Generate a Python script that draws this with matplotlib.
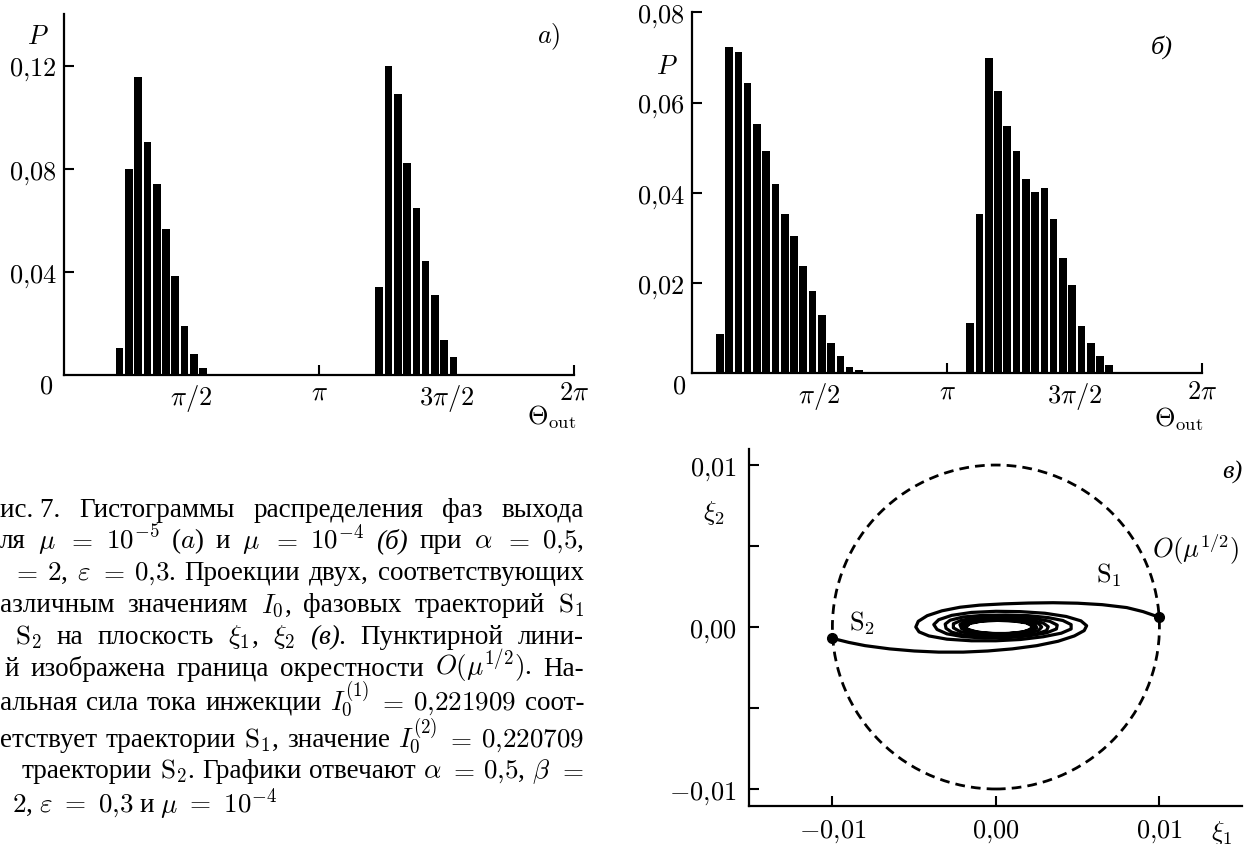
import numpy as np
import matplotlib
matplotlib.use("Agg")
import matplotlib.pyplot as plt
from matplotlib.patches import Ellipse

plt.rcParams['font.family'] = ['Liberation Serif', 'DejaVu Serif']
plt.rcParams['mathtext.fontset'] = 'cm'

W, H = 1255, 845
BIN = 2 * np.pi / 55
FS = 19

# panel a (mu = 1e-5): first bin index of each group, bar heights
a_left_start = 6
a_left = [0.0103, 0.080, 0.1156, 0.0903, 0.0739, 0.0568, 0.0382, 0.0189, 0.0081, 0.0026]
a_right_start = 34
a_right = [0.0341, 0.1197, 0.1089, 0.0823, 0.0648, 0.0442, 0.0310, 0.0137, 0.0068]

# panel b (mu = 1e-4)
b_left_start = 3
b_left = [0.0086, 0.0722, 0.0712, 0.0644, 0.0553, 0.0493, 0.0420, 0.0353,
          0.0304, 0.0238, 0.0183, 0.0129, 0.0067, 0.0038, 0.0013, 0.0007]
b_right_start = 30
b_right = [0.0111, 0.0353, 0.0699, 0.0626, 0.0547, 0.0493, 0.0431, 0.0402,
           0.0410, 0.0341, 0.0256, 0.0195, 0.0104, 0.0067, 0.0038, 0.0019]

# panel c: trajectories (units of 1e-3)
s1_x = [10.0, 9.0, 8.0, 6.5, 5.0, 3.5, 2.0, 0.5, -1.0, -2.2, -3.3, -4.2, -4.75, -4.9, -4.7, -4.1,
        -3.0, -1.5, 0.0, 1.5, 2.9, 4.0, 4.6, 4.6, 4.1, 3.2, 2.0, 0.6, -0.8, -2.0, -2.8, -3.1,
        -3.05, -2.7, -2.0, -1.0, 0.3, 1.5, 2.5, 3.1, 3.2, 2.9, 2.2, 1.2, 0.0, -1.1, -1.9, -2.2,
        -2.1, -1.6, -0.7, 0.4, 1.4, 2.2, 2.5, 2.4, 1.9, 1.0, 0.0, -1.0, -1.7, -1.95, -1.8, -1.2,
        -0.3, 0.7, 1.6, 2.2, 2.3, 2.0, 1.3, 0.3, -0.7, -1.5, -1.9, -1.75, -1.1, -0.2, 0.8, 1.7,
        2.15, 2.2, 1.85, 1.1, 0.1, -0.9, -1.6, -1.8]
s1_y = [0.6, 0.95, 1.2, 1.38, 1.47, 1.5, 1.48, 1.43, 1.35, 1.22, 1.0, 0.7, 0.35, 0.0, -0.3, -0.55,
        -0.75, -0.85, -0.85, -0.77, -0.6, -0.38, -0.12, 0.15, 0.4, 0.58, 0.7, 0.74, 0.72, 0.62, 0.42, 0.18,
        -0.08, -0.32, -0.5, -0.58, -0.6, -0.55, -0.42, -0.22, 0.02, 0.24, 0.42, 0.52, 0.55, 0.5, 0.36, 0.15,
        -0.1, -0.3, -0.42, -0.45, -0.4, -0.26, -0.05, 0.16, 0.33, 0.43, 0.45, 0.4, 0.26, 0.06, -0.15, -0.33,
        -0.42, -0.42, -0.33, -0.16, 0.05, 0.25, 0.38, 0.43, 0.40, 0.28, 0.08, -0.14, -0.32, -0.4, -0.4, -0.3,
        -0.12, 0.08, 0.26, 0.37, 0.41, 0.36, 0.22, 0.02]
s2_x = [-10.0, -9.0, -8.0, -6.5, -5.0, -3.5, -2.0, -0.5, 1.0, 2.5, 3.8, 4.8, 5.4, 5.55, 5.2, 4.3,
        3.0, 1.5, 0.0, -1.5, -2.7, -3.5, -3.8, -3.6, -3.0, -2.0, -0.7, 0.7, 2.0, 3.1, 3.7, 3.75,
        3.3, 2.4, 1.2, 0.0, -1.2, -2.1, -2.6, -2.6, -2.2, -1.4, -0.3, 0.9, 1.9, 2.6, 2.8, 2.6,
        2.0, 1.0, -0.1, -1.1, -1.85, -2.1, -1.95, -1.4, -0.5, 0.5, 1.5, 2.2, 2.4, 2.15, 1.5, 0.6,
        -0.4, -1.3, -1.85, -1.9, -1.5, -0.7, 0.3, 1.3, 2.0, 2.25]
s2_y = [-0.7, -0.95, -1.15, -1.35, -1.48, -1.55, -1.55, -1.48, -1.35, -1.15, -0.88, -0.55, -0.22, 0.08, 0.38, 0.65,
        0.85, 0.95, 0.97, 0.9, 0.72, 0.45, 0.15, -0.15, -0.42, -0.6, -0.68, -0.66, -0.55, -0.36, -0.12, 0.12,
        0.35, 0.52, 0.6, 0.62, 0.56, 0.42, 0.2, -0.05, -0.28, -0.45, -0.52, -0.5, -0.4, -0.22, 0.0, 0.22,
        0.38, 0.48, 0.5, 0.45, 0.3, 0.1, -0.12, -0.3, -0.4, -0.43, -0.36, -0.2, 0.0, 0.22, 0.36, 0.43,
        0.42, 0.33, 0.16, -0.05, -0.25, -0.38, -0.42, -0.37, -0.22, -0.02]
radius = 0.01  # O(mu^1/2)

IT = {"style": "italic"}
caption = [
    (0, ["ис. 7.", "Гистограммы", "распределения", "фаз", "выхода"]),
    (0, ["ля", r"$\mu$", r"$=$", r"$10^{-5}$", r"($a$)", "и", r"$\mu$", r"$=$", r"$10^{-4}$",
         ("(б)", IT), "при", r"$\alpha$", r"$=$", r"$0{,}5$,"]),
    (12, [r"$=$", r"$2$,", r"$\varepsilon$", r"$=$", r"$0{,}3$.", "Проекции", "двух,", "соответствующих"]),
    (0, ["азличным", "значениям", r"$I_0$,", "фазовых", "траекторий", r"$\mathrm{S}_1$"]),
    (15, [r"$\mathrm{S}_2$", "на", "плоскость", r"$\xi_1$,", r"$\xi_2$", ("(в).", IT), "Пунктирной", "лини-"]),
    (5, ["й", "изображена", "граница", "окрестности", r"$O(\mu^{1/2})$.", "На-"]),
    (0, ["альная", "сила", "тока", "инжекции", r"$I_0^{(1)}$", r"$=$", r"$0{,}221909$", "соот-"]),
    (0, ["етствует", "траектории", r"$\mathrm{S}_1$,", "значение", r"$I_0^{(2)}$", r"$=$", r"$0{,}220709$"]),
    (22, ["траектории", r"$\mathrm{S}_2$.", "Графики", "отвечают", r"$\alpha$", r"$=$", r"$0{,}5$,",
          r"$\beta$", r"$=$"]),
]
caption_last = r"$2$, $\varepsilon\ =\ 0{,}3$ и $\mu\ =\ 10^{-4}$"
caption_base = [517, 548, 580, 612, 644, 676, 710, 747, 778]


fig = plt.figure(figsize=(W / 100, H / 100), dpi=100)


def px_axes(l, r, t, b):
    ax = fig.add_axes([l / W, 1 - b / H, (r - l) / W, (b - t) / H])
    for s in ["top", "right"]:
        ax.spines[s].set_visible(False)
    for s in ["left", "bottom"]:
        ax.spines[s].set_linewidth(1.6)
    ax.tick_params(which="both", direction="in", length=7, width=1.5, labelsize=FS)
    return ax


def ftext(x, y, s, **kw):
    kw.setdefault("fontsize", FS)
    return fig.text(x / W, 1 - y / H, s, **kw)


def histo(ax, groups, top, yticks):
    for start, h in groups:
        x = (start + np.arange(len(h))) * BIN
        ax.bar(x, h, width=0.82 * BIN, color="black")
    ax.set_xlim(0, 2 * np.pi)
    ax.set_ylim(0, top)
    ax.set_xticks([np.pi, 2 * np.pi], [r"$\pi$", r"$2\pi$"])
    ax.set_xticks([np.pi / 2, 3 * np.pi / 2], [r"$\pi/2$", r"$3\pi/2$"], minor=True)
    ax.tick_params(axis="x", which="minor", length=0)
    ax.tick_params(axis="x", which="both", pad=5)
    ax.set_yticks(yticks, [("$%.2f$" % v).replace(".", "{,}") for v in yticks])
    ax.tick_params(axis="y", pad=5)


ax_a = px_axes(64, 574, 15, 376)
histo(ax_a, [(a_left_start, a_left), (a_right_start, a_right)], 0.14, [0.04, 0.08, 0.12])
ftext(46, 388, "$0$", ha="center", va="center")
ftext(38, 37, "$P$", ha="center", va="center")
ftext(549, 37, "$a)$", ha="center", va="center")
ftext(527, 417, r"$\Theta_{\rm out}$", ha="left", va="center")

ax_b = px_axes(692, 1202, 13.3, 374.3)
histo(ax_b, [(b_left_start, b_left), (b_right_start, b_right)], 0.08, [0.02, 0.04, 0.06, 0.08])
ftext(679, 388, "$0$", ha="center", va="center")
ftext(667, 68, "$P$", ha="center", va="center")
ftext(1162, 47, "б)", ha="center", va="center", style="italic")
ftext(1154, 419, r"$\Theta_{\rm out}$", ha="left", va="center")

ax_c = px_axes(749, 1242, 450, 807)
ax_c.set_xlim(-0.0151, 0.01505)
ax_c.set_ylim(-0.01105, 0.01099)
ax_c.add_patch(Ellipse((0, 0), 2 * radius, 2 * radius, fill=False, color="black",
                       lw=2.0, linestyle=(0, (3.5, 2.2))))
ax_c.plot(np.array(s1_x) * 1e-3, np.array(s1_y) * 1e-3, color="black", lw=2.3)
ax_c.plot(np.array(s2_x) * 1e-3, np.array(s2_y) * 1e-3, color="black", lw=2.3)
ax_c.plot([s1_x[0] * 1e-3, s2_x[0] * 1e-3], [s1_y[0] * 1e-3, s2_y[0] * 1e-3], "o",
          color="black", ms=7)
ax_c.set_xticks([-0.01, 0, 0.01], [r"$-0{,}01$", r"$0{,}00$", r"$0{,}01$"])
ax_c.set_yticks([-0.01, 0, 0.01], [r"$-0{,}01$", r"$0{,}00$", r"$0{,}01$"])
ax_c.set_yticks([-0.005, 0.005], minor=True)
ax_c.tick_params(axis="y", pad=9)
ax_c.tick_params(axis="x", pad=8)
ftext(714, 513, r"$\xi_2$", ha="center", va="center")
ftext(1222, 833, r"$\xi_1$", ha="center", va="center")
ftext(1232, 472, "в)", ha="center", va="center", style="italic")
ftext(1196, 549, r"$O(\mu^{1/2})$", ha="center", va="center")
ftext(1109, 575, r"$\mathrm{S}_1$", ha="center", va="center")
ftext(862, 623, r"$\mathrm{S}_2$", ha="center", va="center")

# justified caption lines
CFS = 19.5
X_END = 584
fig.canvas.draw()
rend = fig.canvas.get_renderer()
for (x0, words), yb in zip(caption, caption_base):
    ts = []
    for w in words:
        s, kw = (w, {}) if isinstance(w, str) else w
        ts.append(ftext(x0, yb, s, fontsize=CFS, va="baseline", ha="left", **kw))
    widths = [t.get_window_extent(rend).width for t in ts]
    gap = (X_END - x0 - sum(widths)) / (len(ts) - 1)
    x = x0
    for t, w in zip(ts, widths):
        t.set_position((x / W, 1 - yb / H))
        x += w + gap
ftext(12, 813, caption_last, fontsize=CFS, va="baseline", ha="left")

fig.savefig("out.png", dpi=100)
